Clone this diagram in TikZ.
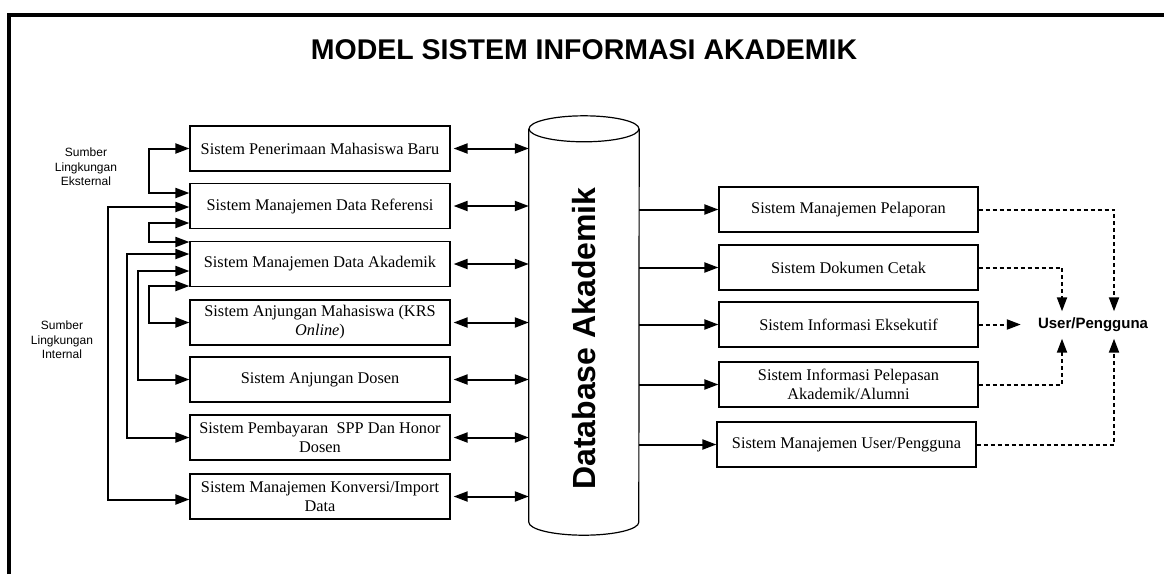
\documentclass[tikz,border=0pt]{standalone}
\usepackage{fontspec}
\setmainfont{Liberation Serif}
\setsansfont{Liberation Sans}
\usetikzlibrary{arrows.meta, positioning, calc}
\tikzset{
    sysbox/.style={
           rectangle,
           draw=black, line width=1.2pt,
           minimum width=260pt,
           minimum height=45pt,
           inner sep=2pt,
           align=center,
           font=\fontsize{16.3}{19}\selectfont,
           },
    src/.style={
           align=center,
           font=\sffamily\fontsize{12}{14.5}\selectfont,
           },
    user/.style={
           inner xsep=17pt, inner ysep=0pt,
           minimum height=27pt,
           font=\sffamily\bfseries\fontsize{15}{18}\selectfont,
           },
    link/.style={line width=2pt},
    dotlink/.style={line width=2pt, dash pattern=on 4pt off 3pt},
}
\newcommand{\judul}[1]{\sffamily\bfseries\fontsize{28.5}{34}\selectfont #1}
\newcommand{\dbase}[1]{\sffamily\bfseries\fontsize{32}{38}\selectfont #1}

\begin{document}
\begin{tikzpicture}[x=1pt, y=-1pt, >={Triangle[length=14pt,width=10pt]}]
  \useasboundingbox (0,0) rectangle (1164,574);
  \draw[line width=3.5pt] (9,574) -- (9,15) -- (1164,15);
  \node (T) at (584,50) {\judul{MODEL SISTEM INFORMASI AKADEMIK}};
  \node[src] (X) at (86,167)  {Sumber\\Lingkungan\\Eksternal};
  \node[src] (N) at (62,340)  {Sumber\\Lingkungan\\Internal};
  \node[sysbox] (A) at (320,148.5) {Sistem Penerimaan Mahasiswa Baru};
  \node[sysbox] (B) at (320,206)   {Sistem Manajemen Data Referensi};
  \node[sysbox] (C) at (320,264)   {Sistem Manajemen Data Akademik};
  \node[sysbox] (D) at (320,322.5) {Sistem Anjungan Mahasiswa (KRS\\\textit{Online})};
  \node[sysbox] (E) at (320,379.5) {Sistem Anjungan Dosen};
  \node[sysbox] (F) at (320,437.5) {Sistem Pembayaran~ SPP Dan Honor\\Dosen};
  \node[sysbox] (G) at (320,496.5) {Sistem Manajemen Konversi/Import\\Data};
  \node[minimum width=110pt, minimum height=393pt, inner sep=0pt] (DB) at (584,325.5) {};
  \draw[line width=1.2pt] (DB.north west) -- (DB.south west) arc[start angle=180, end angle=0, x radius=55, y radius=13] -- (DB.north east);
  \draw[line width=1.2pt] (DB.north) ellipse[x radius=55, y radius=13];
  \node[rotate=90] (DT) at ([yshift=-13pt]DB.center) {\dbase{Database Akademik}};
  \node[sysbox, minimum width=259pt] (H) at (848.5,209.5) {Sistem Manajemen Pelaporan};
  \node[sysbox, minimum width=259pt] (I) at (848.5,267.5) {Sistem Dokumen Cetak};
  \node[sysbox, minimum width=259pt] (J) at (848.5,324.5) {Sistem Informasi Eksekutif};
  \node[sysbox, minimum width=259pt] (K) at (848.5,384.5) {Sistem Informasi Pelepasan\\Akademik/Alumni};
  \node[sysbox, minimum width=259pt] (L) at (846.5,444.5) {Sistem Manajemen User/Pengguna};
  \node[user] (U) at (1093,325) {User/Pengguna};
  \draw[link, <->] (A.west) -- ++(-40,0) |- ([yshift=13pt]B.west);
  \draw[link, <->] ([yshift=-1pt]B.west) -- ++(-81,0) |- ([yshift=-3pt]G.west);
  \draw[link, <->] ([yshift=-17pt]B.west) -- ++(-40,0) |- ([yshift=22pt]C.west);
  \draw[link, <->] ([yshift=10pt]C.west) -- ++(-62,0) |- (F.west);
  \draw[link, <->] ([yshift=-7pt]C.west) -- ++(-51,0) |- (E.west);
  \draw[link, <->] ([yshift=-22pt]C.west) -- ++(-40,0) |- (D.west);
  \draw[link, <->, shorten <=3pt] (A.east) -- (A.east -| DB.west);
  \draw[link, <->, shorten <=3pt] (B.east) -- (B.east -| DB.west);
  \draw[link, <->, shorten <=3pt] (C.east) -- (C.east -| DB.west);
  \draw[link, <->, shorten <=3pt] (D.east) -- (D.east -| DB.west);
  \draw[link, <->, shorten <=3pt] (E.east) -- (E.east -| DB.west);
  \draw[link, <->, shorten <=3pt] (F.east) -- (F.east -| DB.west);
  \draw[link, <->, shorten <=3pt] (G.east) -- (G.east -| DB.west);
  \draw[link, ->] (H.west -| DB.east) -- (H.west);
  \draw[link, ->] (I.west -| DB.east) -- (I.west);
  \draw[link, ->] (J.west -| DB.east) -- (J.west);
  \draw[link, ->] (K.west -| DB.east) -- (K.west);
  \draw[link, ->] (L.west -| DB.east) -- (L.west);
  \draw[dotlink, ->] (H.east) -| ([xshift=21pt]U.north);
  \draw[dotlink, ->] (I.east) -| ([xshift=-31pt]U.north);
  \draw[dotlink, ->] (J.east) -- (J.east -| U.west);
  \draw[dotlink, ->] (K.east) -| ([xshift=-31pt]U.south);
  \draw[dotlink, ->] (L.east) -| ([xshift=21pt]U.south);
\end{tikzpicture}
\end{document}
